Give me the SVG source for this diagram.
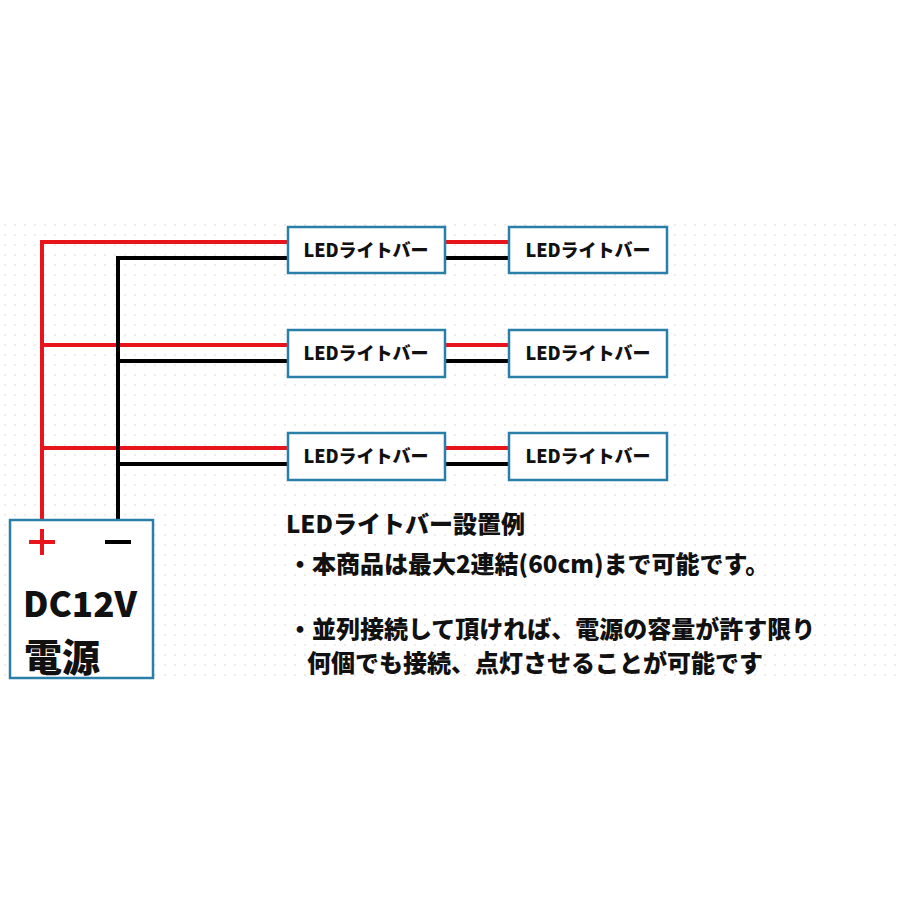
<svg xmlns="http://www.w3.org/2000/svg" width="900" height="900" viewBox="0 0 900 900">
<style>
.box{fill:#fff;stroke:#2a7fa8;stroke-width:2.5}
.lbl{font-family:"Noto Sans CJK JP","Noto Sans",sans-serif;font-weight:900;font-size:18px;fill:#111;text-anchor:middle}
.red{stroke:#e8141b;stroke-width:4;fill:none}
.blk{stroke:#000;stroke-width:4;fill:none}
.t{font-family:"Noto Sans CJK JP","Noto Sans",sans-serif;font-weight:900;font-size:24px;fill:#111}
</style>
<defs>
<pattern id="dots" width="10" height="10" patternUnits="userSpaceOnUse">
<circle cx="5" cy="5" r="0.8" fill="#d8cfcf"/>
</pattern>
</defs>
<rect width="900" height="900" fill="#fff"/>
<rect x="0" y="218" width="900" height="464" fill="url(#dots)"/>
<g id="connectors">
<path class="red" d="M42,520 V242 H288 M445,242 H509 M42,345 H288 M445,345 H509 M42,448 H288 M445,448 H509"/>
<path class="blk" d="M118,520 V258 H288 M445,258 H509 M118,361 H288 M445,361 H509 M118,464 H288 M445,464 H509"/>
</g>
<g id="bar1a"><rect class="box" x="288" y="227" width="157" height="46"/><text class="lbl" x="366" y="257">LEDライトバー</text></g>
<g id="bar1b"><rect class="box" x="509" y="227" width="158" height="46"/><text class="lbl" x="588" y="257">LEDライトバー</text></g>
<g id="bar2a"><rect class="box" x="288" y="330" width="157" height="47"/><text class="lbl" x="366" y="360">LEDライトバー</text></g>
<g id="bar2b"><rect class="box" x="509" y="330" width="158" height="47"/><text class="lbl" x="588" y="360">LEDライトバー</text></g>
<g id="bar3a"><rect class="box" x="288" y="433" width="157" height="47"/><text class="lbl" x="366" y="463">LEDライトバー</text></g>
<g id="bar3b"><rect class="box" x="509" y="433" width="158" height="47"/><text class="lbl" x="588" y="463">LEDライトバー</text></g>
<g id="psu">
<rect class="box" x="10" y="520" width="143" height="158"/>
<path d="M29,542 H55 M42,529 V555" stroke="#e8141b" stroke-width="4"/>
<path d="M105,542 H131" stroke="#000" stroke-width="4"/>
<text x="23" y="617" font-family="'Noto Sans CJK JP','Noto Sans',sans-serif" font-weight="900" font-size="35" fill="#111">DC12V</text>
<text x="24" y="671" font-family="'Noto Sans CJK JP',sans-serif" font-weight="900" font-size="38" fill="#111">電源</text>
</g>
<g id="notes">
<text class="t" x="286" y="533">LEDライトバー設置例</text>
<text class="t" x="288" y="573">・本商品は最大2連結(60cm)まで可能です。</text>
<text class="t" x="288" y="638">・並列接続して頂ければ、電源の容量が許す限り</text>
<text class="t" x="307" y="672">何個でも接続、点灯させることが可能です</text>
</g>
</svg>
